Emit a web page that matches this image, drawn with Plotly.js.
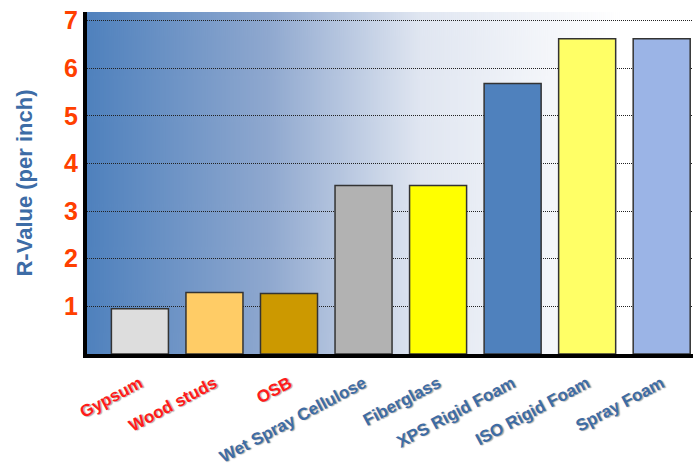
<!DOCTYPE html>
<html>
<head>
<meta charset="utf-8">
<script src="https://cdn.plot.ly/plotly-3.0.1.min.js"></script>
<style>html,body{margin:0;padding:0;background:#fff;}</style>
</head>
<body>
<div id="chart" style="width:693px;height:470px;"></div>
<script>
const categories = ["Gypsum", "Wood studs", "OSB", "Wet Spray Cellulose", "Fiberglass", "XPS Rigid Foam", "ISO Rigid Foam", "Spray Foam"];
const rValues = [0.95, 1.29, 1.27, 3.54, 3.54, 5.68, 6.62, 6.62];
const barColors = ["#dddddd", "#ffcc66", "#cc9900", "#b2b2b2", "#ffff00", "#4f81bd", "#ffff66", "#9bb4e6"];
const labelColors = ["#ff1a1a", "#ff1a1a", "#ff1a1a", "#3d6ca6", "#3d6ca6", "#3d6ca6", "#3d6ca6", "#3d6ca6"];
const yTicks = [1, 2, 3, 4, 5, 6, 7];

// gradient background image
const cv = document.createElement('canvas');
cv.width = 606; cv.height = 8;
const ctx = cv.getContext('2d');
const g = ctx.createLinearGradient(0, 0, 606, 0);
g.addColorStop(0, '#4f81bd');
g.addColorStop(0.3, '#8fa8cf');
g.addColorStop(0.55, '#e0e6f1');
g.addColorStop(0.88, '#ffffff');
g.addColorStop(1, '#ffffff');
ctx.fillStyle = g;
ctx.fillRect(0, 0, 606, 8);
const bgURL = cv.toDataURL('image/png');

const trace = {
  type: 'bar',
  x: categories.map((c, i) => i),
  y: rValues,
  width: 0.765,
  marker: {color: barColors, line: {color: '#333333', width: 1.5}},
  hoverinfo: 'x+y'
};

const layout = {
  width: 693, height: 470,
  margin: {l: 87, r: 0, t: 12, b: 116, pad: 0},
  paper_bgcolor: '#ffffff',
  plot_bgcolor: '#ffffff',
  showlegend: false,
  font: {family: '"Liberation Sans", Arial, sans-serif'},
  xaxis: {
    range: [-0.71, 7.42],
    tickvals: categories.map((c, i) => i),
    ticktext: categories.map((c, i) => '<span style="color:' + labelColors[i] + '">' + c + '</span>'),
    tickangle: -28,
    tickfont: {size: 17, weight: 'bold', color: '#3d6ca6', shadow: '1px 1px 1px rgba(0,0,0,0.35)'},
    ticklabelstandoff: 9,
    showgrid: false, zeroline: false,
    showline: true, linecolor: '#000000', linewidth: 4,
    ticks: '', automargin: false
  },
  yaxis: {
    range: [0, 7.18],
    tickvals: yTicks,
    tickfont: {size: 25, weight: 'bold', color: '#ff4000'},
    showgrid: true, gridcolor: '#222222', gridwidth: 1, griddash: '1px,1px',
    zeroline: false,
    showline: true, linecolor: '#000000', linewidth: 4,
    ticks: '', automargin: false,
    title: {text: 'R-Value (per inch)', font: {size: 22, weight: 'bold', color: '#3d6ca6'}, standoff: 26}
  },
  images: [{
    source: bgURL, xref: 'paper', yref: 'paper', x: 0, y: 1, sizex: 1, sizey: 1,
    xanchor: 'left', yanchor: 'top', sizing: 'stretch', layer: 'below'
  }]
};

Plotly.newPlot('chart', [trace], layout, {displayModeBar: false, staticPlot: true});
</script>
</body>
</html>
